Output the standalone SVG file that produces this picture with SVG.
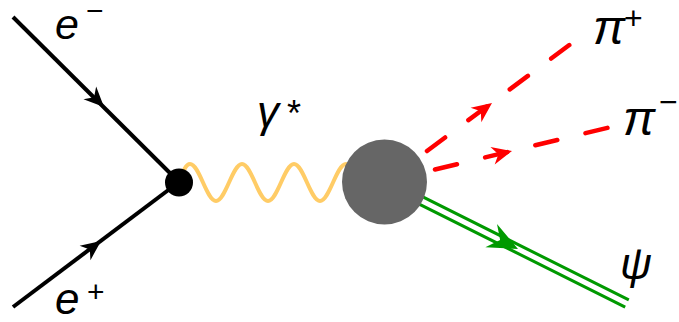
<svg xmlns="http://www.w3.org/2000/svg" xmlns:xlink="http://www.w3.org/1999/xlink" width="679" height="322" viewBox="0 0 679 322">
<style>
.fermion{stroke:#000;stroke-width:4;fill:none}
.photon{stroke:#FFCC66;stroke-width:4;fill:none}
.pion{stroke:#FF0000;stroke-width:4.5;fill:none;stroke-dasharray:22.6 29;stroke-linecap:round}
.psi{stroke:#009900;stroke-width:3;fill:none}
.lbl{font-family:"Liberation Sans",Arial,sans-serif;font-style:italic;font-size:44px;fill:#000}
.big{font-size:48px}
.sup{font-family:"Liberation Sans",Arial,sans-serif;font-size:30px;fill:#000}
.sup2{font-size:32px}
</style>
<defs>
<path id="ah" d="M0,0 L-20,-9 L-14,0 L-20,9 Z"/>
<path id="ahg" d="M0,0 L-30,-13 L-20,0 L-30,13 Z"/>
</defs>
<g id="connectors">
<line class="fermion" x1="13" y1="17" x2="179" y2="182"/>
<use xlink:href="#ah" fill="#000" transform="translate(104,107) rotate(44.8)"/>
<line class="fermion" x1="13" y1="307" x2="179" y2="182"/>
<use xlink:href="#ah" fill="#000" transform="translate(101,241) rotate(-37)"/>
<path class="photon" d="M179,182 C183,171 186,164 190,164 C199.45,164 206.55,201 216,201 C225.45,201 232.55,164 242,164 C251.45,164 258.55,201 268,201 C277.45,201 284.55,164 294,164 C303.45,164 310.55,201 320,201 C329.45,201 336.55,164 346,164 C355.45,164 362.55,201 372,201"/>
<line class="pion" x1="427" y1="151" x2="570" y2="44.5"/>
<use xlink:href="#ah" fill="#FF0000" transform="translate(492,103) rotate(-36.7)"/>
<line class="pion" x1="435" y1="169.5" x2="609" y2="127.5"/>
<use xlink:href="#ah" fill="#FF0000" transform="translate(512,151) rotate(-13.7)"/>
<line class="psi" x1="401.8" y1="186.4" x2="628.8" y2="299.9"/>
<line class="psi" x1="398.2" y1="193.6" x2="625.2" y2="307.1"/>
<use xlink:href="#ahg" fill="#009900" transform="translate(518,249) rotate(26.6)"/>
</g>
<g id="vertex">
<circle cx="179" cy="182.5" r="14" fill="#000"/>
</g>
<g id="blob">
<circle cx="384.5" cy="182" r="42.5" fill="#666666"/>
</g>
<g id="label-eminus">
<text class="lbl" x="55" y="39" style="font-size:43px">e</text>
<text class="sup" x="86" y="21">−</text>
</g>
<g id="label-eplus">
<text class="lbl" x="55" y="314">e</text>
<text class="sup" x="87" y="302">+</text>
</g>
<g id="label-gamma">
<text class="lbl" x="257" y="127">γ</text>
<text class="sup" x="287" y="126" style="font-size:36px">*</text>
</g>
<g id="label-piplus">
<text class="lbl big" x="593" y="43.5">π</text>
<text class="sup sup2" x="624" y="29">+</text>
</g>
<g id="label-piminus">
<text class="lbl big" x="623" y="135">π</text>
<text class="sup sup2" x="659" y="113">−</text>
</g>
<g id="label-psi">
<text class="lbl" x="620" y="279">ψ</text>
</g>
</svg>
